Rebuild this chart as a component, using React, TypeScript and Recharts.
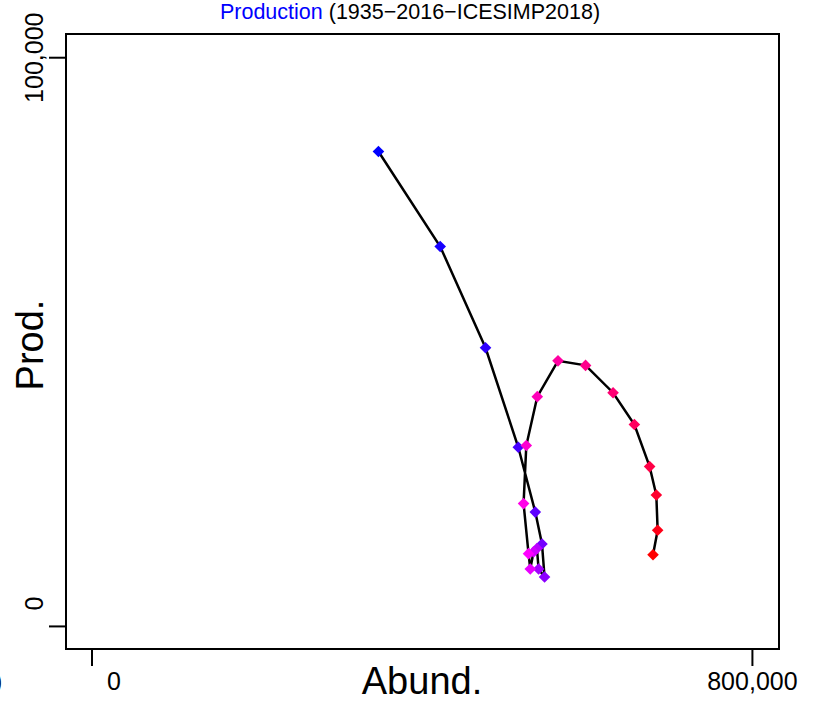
import React from "react";
import { ScatterChart, Scatter, XAxis, YAxis, ReferenceArea } from "recharts";

// Abundance (x) and production (y) per point, in path order (1935 -> 2016)
const abundance = [
  347000, 421800, 476700, 516400, 537000, 545100, 548200, 541000, 539000, 534900,
  530900, 528800, 522800, 526100, 539400, 564500, 597900, 631200, 657000, 675500,
  683600, 685200, 679600,
];
const production = [
  83500, 66800, 49000, 31500, 20100, 14500, 8700, 10100, 13700, 13100,
  10100, 12800, 21600, 31800, 40400, 46700, 45900, 41100, 35500, 28100,
  23100, 16900, 12600,
];
const xTicks = [0, 800000];
const yTicks = [0, 100000];

const X_DOMAIN: [number, number] = [-31470, 832200];
const Y_DOMAIN: [number, number] = [-3970, 104170];

const W = 817;
const H = 702;
const PLOT_LEFT = 66;
const PLOT_BOTTOM = 649;
const FONT = "'Liberation Sans', Arial, Helvetica, sans-serif";

const points = abundance.map((a, i) => ({ abund: a, prod: production[i], i }));

// blue -> magenta -> red along the series
const colorFor = (i: number) => {
  const hue = 240 + (120 * i) / (points.length - 1);
  return `hsl(${hue % 360}, 100%, 50%)`;
};

const Diamond = (props: any) => {
  const { cx, cy, payload } = props;
  const r = 5.8;
  return (
    <polygon
      points={`${cx},${cy - r} ${cx + r},${cy} ${cx},${cy + r} ${cx - r},${cy}`}
      fill={colorFor(payload.i)}
    />
  );
};

const fmt = (v: number) => v.toLocaleString("en-US");

const XTick = (props: any) => {
  const { x, payload } = props;
  const shift = payload.value === 0 ? 22 : 0;
  return (
    <g>
      <line x1={x} y1={PLOT_BOTTOM} x2={x} y2={PLOT_BOTTOM + 17} stroke="#000" strokeWidth={2} />
      <text x={x + shift} y={690} textAnchor="middle" fontSize={25} fontFamily={FONT} fill="#000">
        {fmt(payload.value)}
      </text>
    </g>
  );
};

const YTick = (props: any) => {
  const { y, payload } = props;
  const shift = payload.value === 0 ? -23 : 0;
  return (
    <g>
      <line x1={PLOT_LEFT - 17} y1={y} x2={PLOT_LEFT} y2={y} stroke="#000" strokeWidth={2} />
      <text
        x={43}
        y={y + shift}
        transform={`rotate(-90, 43, ${y + shift})`}
        textAnchor="middle"
        fontSize={25}
        fontFamily={FONT}
        fill="#000"
      >
        {fmt(payload.value)}
      </text>
    </g>
  );
};

export default function App() {
  return (
    <div style={{ position: "absolute", left: 0, top: 0, width: W, height: H, background: "#fff", fontFamily: FONT }}>
      <ScatterChart width={W} height={H} margin={{ top: 34, right: 38, left: 0, bottom: 0 }}>
        <XAxis
          dataKey="abund"
          type="number"
          domain={X_DOMAIN}
          ticks={xTicks}
          allowDataOverflow
          height={53}
          axisLine={false}
          tickLine={false}
          tick={<XTick />}
        />
        <YAxis
          dataKey="prod"
          type="number"
          domain={Y_DOMAIN}
          ticks={yTicks}
          allowDataOverflow
          width={66}
          axisLine={false}
          tickLine={false}
          tick={<YTick />}
        />
        <ReferenceArea
          x1={X_DOMAIN[0]}
          x2={X_DOMAIN[1]}
          y1={Y_DOMAIN[0]}
          y2={Y_DOMAIN[1]}
          fill="#fff"
          fillOpacity={0}
          stroke="#000"
          strokeWidth={2}
        />
        <Scatter
          data={points}
          line={{ stroke: "#000", strokeWidth: 2.5 }}
          lineType="joint"
          shape={<Diamond />}
          isAnimationActive={false}
        />
      </ScatterChart>

      <svg width={W} height={H} style={{ position: "absolute", left: 0, top: 0, pointerEvents: "none" }}>
        <text x={410} y={19} textAnchor="middle" fontSize={21.5} fontFamily={FONT}>
          <tspan fill="#0000ff">Production</tspan>
          <tspan fill="#000"> (1935−2016−ICESIMP2018)</tspan>
        </text>
        <text x={422} y={694} textAnchor="middle" fontSize={38} fontFamily={FONT} fill="#000">
          Abund.
        </text>
        <text x={43} y={345} transform="rotate(-90, 43, 345)" textAnchor="middle" fontSize={38} fontFamily={FONT} fill="#000">
          Prod.
        </text>
        <text x={-6} y={690} fontSize={25} fontFamily={FONT} fill="#000">
          )
        </text>
      </svg>
    </div>
  );
}
